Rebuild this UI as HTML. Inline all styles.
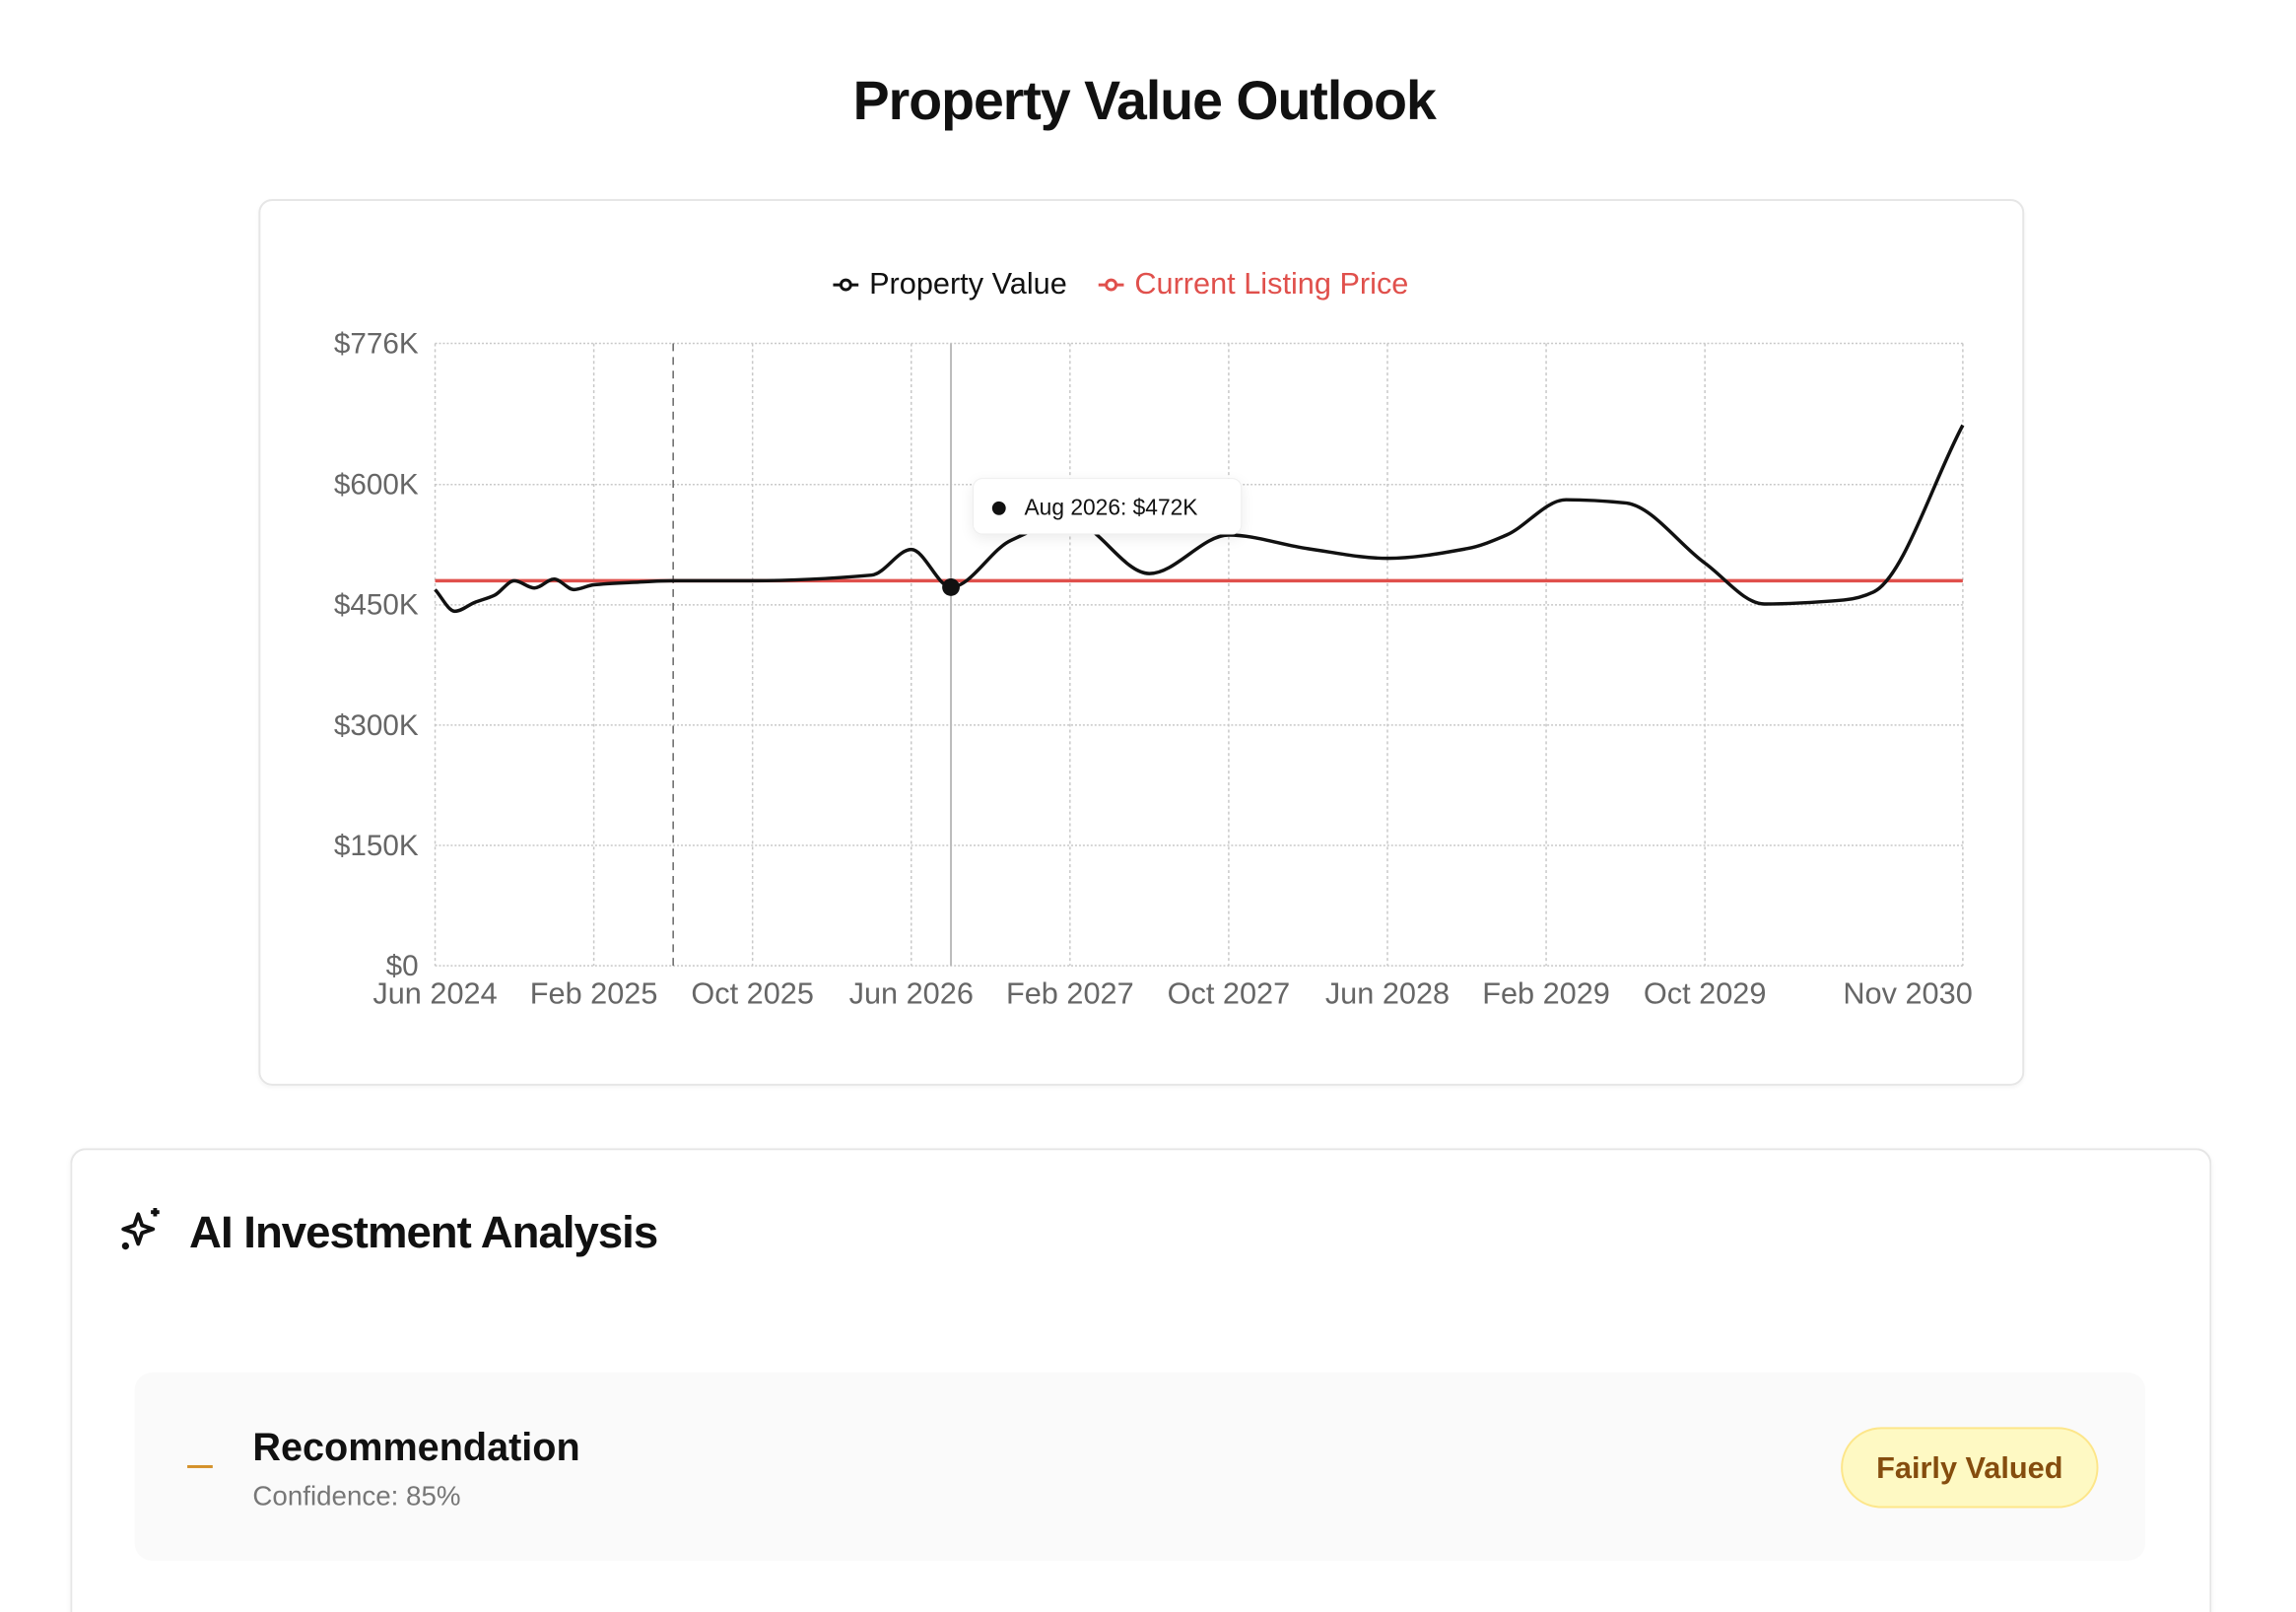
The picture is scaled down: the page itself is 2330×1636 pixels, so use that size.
<!DOCTYPE html>
<html><head><meta charset="utf-8"><style>
html,body{margin:0;padding:0;background:#fff;width:2330px;height:1636px;overflow:hidden;font-family:"Liberation Sans",sans-serif;position:relative;}
.abs{position:absolute;}
#wrap{position:absolute;left:0;top:0;width:2354px;height:1653px;overflow:hidden;transform:scale(0.99);transform-origin:0 0;}
</style></head><body>
<div id="wrap">
<div class="abs" style="left:0;width:2346px;top:70px;text-align:center;font-size:56px;font-weight:bold;color:#111;letter-spacing:-1px;">Property Value Outlook</div>
<div class="abs" style="left:265px;top:204px;width:1806px;height:905px;border:2px solid #e6e6e6;border-radius:14px;box-shadow:0 2px 4px rgba(0,0,0,0.04);"></div>
<svg class="abs" id="chart" style="left:0;top:0" width="2330" height="1130"></svg>
<div class="abs" id="tooltip" style="left:997px;top:490px;width:276px;height:58px;background:#fff;border:1px solid #eee;border-radius:10px;box-shadow:0 4px 14px rgba(0,0,0,0.08);font-size:23px;color:#111;line-height:58px;box-sizing:border-box;padding-left:52px;">
<span class="abs" style="left:19px;top:23px;width:14px;height:14px;border-radius:50%;background:#111;"></span>Aug 2026: $472K</div>

<div class="abs" style="left:72px;top:1177px;width:2191px;height:500px;border:2px solid #e6e6e6;border-bottom:none;border-radius:16px 16px 0 0;box-shadow:0 2px 6px rgba(0,0,0,0.05);"></div>
<svg class="abs" style="left:120px;top:1234px" width="52" height="52" viewBox="0 0 24 24" fill="none" stroke="#111" stroke-width="1.8" stroke-linejoin="round"><path d="M10 5 L11.8 10.2 L17 12 L11.8 13.8 L10 19 L8.2 13.8 L3 12 L8.2 10.2 Z"/><path d="M18 2 v4 M16 4 h4"/><circle cx="4" cy="20" r="0.8"/></svg>
<div class="abs" style="left:194px;top:1236px;font-size:46px;font-weight:bold;color:#111;letter-spacing:-1px;">AI Investment Analysis</div>
<div class="abs" style="left:138px;top:1407px;width:2061px;height:193px;background:#fafafa;border-radius:18px;"></div>
<div class="abs" style="left:192px;top:1502px;width:26px;height:3px;background:#d4912a;"></div>
<div class="abs" style="left:259px;top:1462px;font-size:40px;font-weight:bold;color:#111;">Recommendation</div>
<div class="abs" style="left:259px;top:1518px;font-size:28px;color:#777;">Confidence: 85%</div>
<div class="abs" style="left:1887px;top:1463px;width:264px;height:83px;box-sizing:border-box;background:#fef9c3;border:2px solid #fde68a;border-radius:42px;text-align:center;line-height:79px;font-size:31px;font-weight:bold;color:#854d0e;">Fairly Valued</div>
</div>
<script>
const months = [0,1,2,3,4,5,6,7,8,10,12,16,22,24,26,29,32,36,40,44,48,52,54,57,60,64,67,71,72.5,77];
const values = [469,442,453,462,480,471,482,469,475,478,480,480,487,519,472,530,555,489,537,520,508,520,537,581,577,502,451,456,466,674];
const listingPrice = 480;
const yTicks = [0,150,300,450,600,776];
const xTickMonths = [0,8,16,24,32,40,48,56,64,77];
const xTickLabels = ["Jun 2024","Feb 2025","Oct 2025","Jun 2026","Feb 2027","Oct 2027","Jun 2028","Feb 2029","Oct 2029","Nov 2030"];
const todayMonth = 12;
const activeMonth = 26;
const activeValue = 472;

const X0=446,X1=2012,Y0=990,Y1=352,MAXM=77,MAXV=776;
const xs=m=>X0+(X1-X0)*m/MAXM;
const ys=v=>Y0-(Y0-Y1)*v/MAXV;
const svg=document.getElementById('chart');
const NS='http://www.w3.org/2000/svg';
function mk(tag,attrs){const e=document.createElementNS(NS,tag);for(const k in attrs)e.setAttribute(k,attrs[k]);svg.appendChild(e);return e;}

yTicks.forEach(v=>{
  const l=mk('line',{x1:X0,x2:X1,y1:ys(v),y2:ys(v),stroke:'#c8c8c8','stroke-width':1.5,'stroke-dasharray':'2 2'});
  
  
  const t=mk('text',{x:429,y:ys(v)+10,'text-anchor':'end','font-size':30,fill:'#666','font-family':'Liberation Sans, sans-serif'});
  t.textContent='$'+v+(v?'K':'');
  
  
});
xTickMonths.forEach((m,i)=>{
  const l=mk('line',{x1:xs(m),x2:xs(m),y1:Y1,y2:Y0,stroke:'#c8c8c8','stroke-width':1.5,'stroke-dasharray':'3 3'});
  
  
  const last=i===xTickMonths.length-1;
  const t=mk('text',{x:last?xs(m)+10:xs(m),y:1029,'text-anchor':last?'end':'middle','font-size':31,fill:'#666','font-family':'Liberation Sans, sans-serif'});
  t.textContent=xTickLabels[i];
  
  
});
const tl=mk('line',{x1:xs(todayMonth),x2:xs(todayMonth),y1:Y1,y2:Y0,stroke:'#666','stroke-width':1.5,'stroke-dasharray':'8 6'});


const cl=mk('line',{x1:xs(activeMonth),x2:xs(activeMonth),y1:Y1,y2:Y0,stroke:'#bbb','stroke-width':2});


const rl=mk('line',{x1:X0,x2:X1,y1:ys(listingPrice),y2:ys(listingPrice),stroke:'#e0504c','stroke-width':3.5});



const px=months.map(xs),py=values.map(ys),n=px.length;
const d=[],m=[];
for(let i=0;i<n-1;i++)d.push((py[i+1]-py[i])/(px[i+1]-px[i]));
m[0]=d[0];m[n-1]=d[n-2];
for(let i=1;i<n-1;i++){m[i]=(d[i-1]*d[i]<=0)?0:2/(1/d[i-1]+1/d[i]);}
let p='M'+px[0]+','+py[0];
for(let i=0;i<n-1;i++){const h=(px[i+1]-px[i])/3;p+=' C'+(px[i]+h)+','+(py[i]+m[i]*h)+' '+(px[i+1]-h)+','+(py[i+1]-m[i+1]*h)+' '+px[i+1]+','+py[i+1];}
const pl=mk('path',{d:p,fill:'none',stroke:'#111','stroke-width':3.5});


const dot=mk('circle',{cx:xs(activeMonth),cy:ys(activeValue),r:9,fill:'#111'});



function legend(x,color,label,name){
  const g=mk('g',{});
  
  
  const a=document.createElementNS(NS,'line');a.setAttribute('x1',x);a.setAttribute('x2',x+26);a.setAttribute('y1',292);a.setAttribute('y2',292);a.setAttribute('stroke',color);a.setAttribute('stroke-width',3);g.appendChild(a);
  const c=document.createElementNS(NS,'circle');c.setAttribute('cx',x+13);c.setAttribute('cy',292);c.setAttribute('r',5);c.setAttribute('fill','#fff');c.setAttribute('stroke',color);c.setAttribute('stroke-width',3);g.appendChild(c);
  const t=document.createElementNS(NS,'text');t.setAttribute('x',x+37);t.setAttribute('y',301);t.setAttribute('font-size',31);t.setAttribute('fill',color);t.setAttribute('font-family','Liberation Sans, sans-serif');t.textContent=label;g.appendChild(t);
}
legend(854,'#111','Property Value','legend-property-value');
legend(1126,'#e0504c','Current Listing Price','legend-listing-price');
</script>
</body></html>
